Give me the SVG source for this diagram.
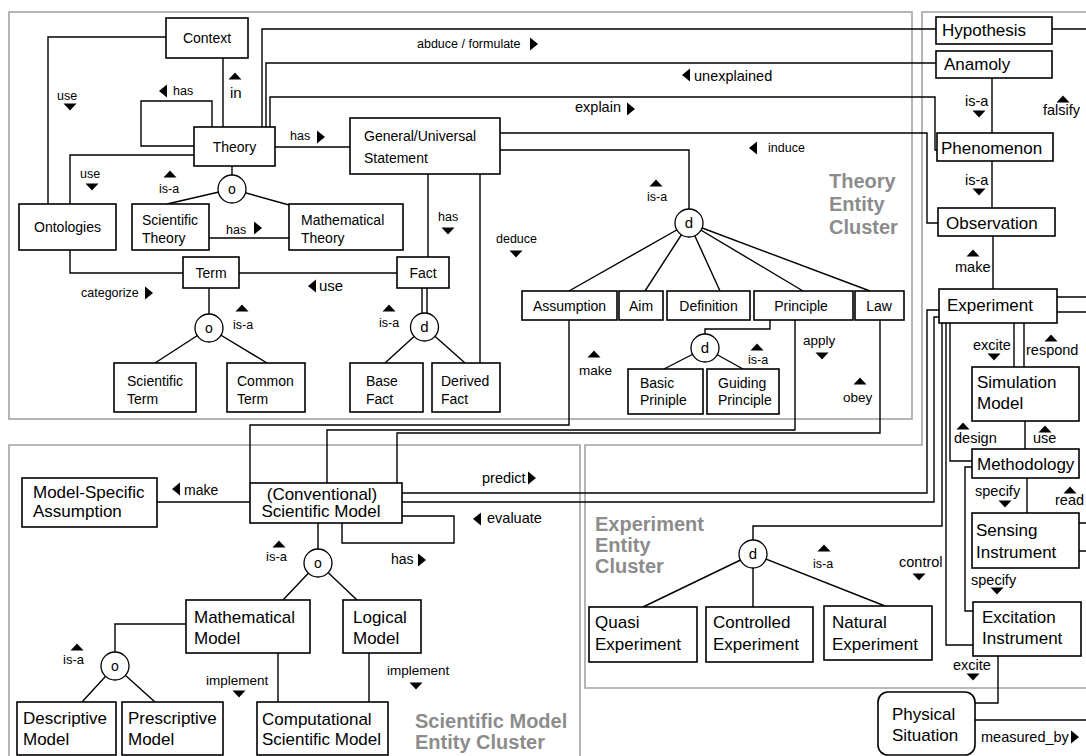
<svg xmlns="http://www.w3.org/2000/svg" width="1086" height="756" viewBox="0 0 1086 756">
<style>
  text{font-family:"Liberation Sans",Arial,sans-serif;fill:#000}
  .box{fill:#fff;stroke:#000;stroke-width:1.6}
  .cir{fill:#fff;stroke:#000;stroke-width:1.3}
  .ln{fill:none;stroke:#000;stroke-width:1.4}
  .cl{fill:none;stroke:#a3a3a3;stroke-width:1.6}
  .t14{font-size:14px}
  .t17{font-size:17px}
  .c{text-anchor:middle}
  .lb{font-size:12.5px}
  .lm{font-size:14.5px}
  .ct{font-size:20px;font-weight:bold;fill:#8c8c8c}
</style>
<defs>
  <path id="au" d="M-6.5,3.5H6.5L0,-3.5Z"/>
  <path id="ad" d="M-6.5,-3.5H6.5L0,3.5Z"/>
  <path id="ar" d="M-4,-6.5V6.5L4,0Z"/>
  <path id="al" d="M4,-6.5V6.5L-4,0Z"/>
</defs>
<rect width="1086" height="756" fill="#fff"/>

<!-- cluster outlines -->
<g id="clusters">
  <rect class="cl" x="9" y="12" width="903" height="407"/>
  <path class="cl" d="M1090,12H922V445H585V688H1090"/>
  <path class="cl" d="M580,760V445H9V760"/>
  <text class="ct" x="829" y="188">Theory</text>
  <text class="ct" x="829" y="211">Entity</text>
  <text class="ct" x="829" y="234">Cluster</text>
  <text class="ct" x="595" y="531">Experiment</text>
  <text class="ct" x="595" y="552">Entity</text>
  <text class="ct" x="595" y="573">Cluster</text>
  <text class="ct" x="415" y="728">Scientific Model</text>
  <text class="ct" x="415" y="749">Entity Cluster</text>
</g>

<!-- connectors -->
<g id="connectors">
  <path class="ln" d="M223,58V127"/>
  <path class="ln" d="M194,146H141V101H212V127"/>
  <path class="ln" d="M166,37H48V204"/>
  <path class="ln" d="M194,155H70V204"/>
  <path class="ln" d="M232,166V189M232,189L167,204M232,189L289,205"/>
  <path class="ln" d="M209,238H289"/>
  <path class="ln" d="M275,147H350"/>
  <path class="ln" d="M70,250V273H183"/>
  <path class="ln" d="M239,273H397"/>
  <path class="ln" d="M428,174V257"/>
  <path class="ln" d="M480,174V363"/>
  <path class="ln" d="M209,288V328M209,328L155,363M209,328L267,363"/>
  <path class="ln" d="M422,288V315M427,288V315"/>
  <path class="ln" d="M424.5,327L385,363M424.5,327L465,363"/>
  <path class="ln" d="M500,150H689V223"/>
  <path class="ln" d="M689,223L569,291M689,223L645,291M689,223L720,291M689,223L803,291M689,223L870,291"/>
  <path class="ln" d="M770,320V329H705V348M705,348L664,369M705,348L743,369"/>
  <path class="ln" d="M569,320V425H250V483"/>
  <path class="ln" d="M795,320V430H327V483"/>
  <path class="ln" d="M880,320V433H397V483"/>
  <path class="ln" d="M262,127V29H936"/>
  <path class="ln" d="M266,127V63H936"/>
  <path class="ln" d="M270,127V97H935V150H937"/>
  <path class="ln" d="M500,133H927V223H938"/>
  <path class="ln" d="M1052,29H1086"/>
  <path class="ln" d="M992,78V133"/>
  <path class="ln" d="M992,161V208"/>
  <path class="ln" d="M993,236V289"/>
  <path class="ln" d="M1057,297H1086M1057,312H1086"/>
  <path class="ln" d="M1014,323V367"/>
  <path class="ln" d="M1024,323V367"/>
  <path class="ln" d="M1025,421V449"/>
  <path class="ln" d="M950,323V461H972"/>
  <path class="ln" d="M1027,478V513"/>
  <path class="ln" d="M1079,523H1086M1079,551H1086"/>
  <path class="ln" d="M972,467H965V611H973"/>
  <path class="ln" d="M946,323V645H973"/>
  <path class="ln" d="M942,323V526H753V554"/>
  <path class="ln" d="M753,554L643,607M753,554V607M753,554L885,606"/>
  <path class="ln" d="M998,656V703H975"/>
  <path class="ln" d="M975,720H1086"/>
  <path class="ln" d="M250,502H157"/>
  <path class="ln" d="M402,493H927V310H939"/>
  <path class="ln" d="M402,502H934V317H939"/>
  <path class="ln" d="M402,516H454V543H342V523"/>
  <path class="ln" d="M318,523V563M318,563L283,600M318,563L357,600"/>
  <path class="ln" d="M186,624H115V666M115,666L82,702M115,666L155,702"/>
  <path class="ln" d="M278,653V702"/>
  <path class="ln" d="M369,653V702"/>
</g>

<!-- connector labels -->
<g id="labels">
  <text class="lb" x="57" y="100">use</text><use href="#ad" x="70" y="107"/>
  <text class="lb" x="173" y="95">has</text><use href="#al" x="163" y="91"/>
  <text x="230" y="98" font-size="15">in</text><use href="#au" x="235" y="76"/>
  <text class="lb" x="80" y="178">use</text><use href="#ad" x="92" y="187"/>
  <text class="lb" x="159" y="193">is-a</text><use href="#au" x="170" y="174"/>
  <text class="lb" x="226" y="234">has</text><use href="#ar" x="258" y="228"/>
  <text class="lb" x="290" y="140">has</text><use href="#ar" x="321" y="137"/>
  <text class="lb" x="417" y="48">abduce / formulate</text><use href="#ar" x="534" y="44"/>
  <text class="lm" x="694" y="81">unexplained</text><use href="#al" x="686" y="75"/>
  <text class="lm" x="575" y="112">explain</text><use href="#ar" x="631" y="109"/>
  <text class="lb" x="768" y="152">induce</text><use href="#al" x="753" y="148"/>
  <text class="lb" x="438" y="221">has</text><use href="#ad" x="448" y="231"/>
  <text class="lb" x="496" y="243">deduce</text><use href="#ad" x="516" y="254"/>
  <text class="lb" x="647" y="201">is-a</text><use href="#au" x="656" y="183"/>
  <text class="lb" x="81" y="297">categorize</text><use href="#ar" x="149" y="293"/>
  <text x="319" y="291" font-size="15">use</text><use href="#al" x="312" y="286"/>
  <text class="lb" x="233" y="329">is-a</text><use href="#au" x="242" y="308"/>
  <text class="lb" x="379" y="327">is-a</text><use href="#au" x="389" y="308"/>
  <text x="579" y="375" font-size="13.5">make</text><use href="#au" x="594" y="354"/>
  <text x="803" y="345" font-size="13.5">apply</text><use href="#ad" x="822" y="356"/>
  <text x="843" y="402" font-size="13.5">obey</text><use href="#au" x="860" y="381"/>
  <text class="lb" x="748" y="364">is-a</text><use href="#au" x="757" y="347"/>

  <text class="lm" x="965" y="106">is-a</text><use href="#ad" x="979" y="114"/>
  <text class="lm" x="1043" y="115">falsify</text><use href="#au" x="1063" y="99"/>
  <text class="lm" x="965" y="185">is-a</text><use href="#ad" x="979" y="192"/>
  <text class="lm" x="955" y="272">make</text><use href="#au" x="973" y="253"/>
  <text class="lm" x="973" y="350">excite</text><use href="#ad" x="994" y="357"/>
  <text class="lm" x="1026" y="355">respond</text><use href="#au" x="1051" y="338"/>
  <text class="lm" x="954" y="443">design</text><use href="#au" x="963" y="426"/>
  <text class="lm" x="1033" y="443">use</text><use href="#au" x="1045" y="429"/>
  <text class="lm" x="975" y="496">specify</text><use href="#ad" x="1005" y="504"/>
  <text class="lm" x="1055" y="505">read</text><use href="#au" x="1070" y="490"/>
  <text class="lm" x="971" y="585">specify</text><use href="#ad" x="997" y="591"/>
  <text class="lm" x="899" y="567">control</text><use href="#ad" x="919" y="577"/>
  <text class="lb" x="813" y="568">is-a</text><use href="#au" x="824" y="548"/>
  <text class="lm" x="953" y="670">excite</text><use href="#ad" x="973" y="677"/>
  <text class="lm" x="981" y="742">measured_by</text><use href="#ar" x="1075" y="737"/>

  <text x="184" y="495" font-size="14">make</text><use href="#al" x="176" y="489"/>
  <text class="lm" x="482" y="483">predict</text><use href="#ar" x="532" y="478"/>
  <text class="lm" x="487" y="523">evaluate</text><use href="#al" x="477" y="519"/>
  <text x="391" y="564" font-size="14">has</text><use href="#ar" x="422" y="560"/>
  <text x="266" y="561" font-size="13">is-a</text><use href="#au" x="279" y="544"/>
  <text x="206" y="685" font-size="13.5">implement</text><use href="#ad" x="239" y="694"/>
  <text x="387" y="675" font-size="13.5">implement</text><use href="#ad" x="416" y="686"/>
  <text x="63" y="664" font-size="13">is-a</text><use href="#au" x="77" y="647"/>
</g>

<!-- Theory entity cluster -->
<g id="n-context"><rect class="box" x="166" y="18" width="82" height="40"/><text class="t14 c" x="207" y="43">Context</text></g>
<g id="n-theory"><rect class="box" x="194" y="127" width="81" height="39"/><text class="t14 c" x="234.5" y="152">Theory</text></g>
<g id="n-ontologies"><rect class="box" x="19" y="204" width="97" height="46"/><text class="t14 c" x="67.5" y="232">Ontologies</text></g>
<g id="n-scientific-theory"><rect class="box" x="132" y="204" width="77" height="46"/><text class="t14" x="142" y="225">Scientific</text><text class="t14" x="142" y="243">Theory</text></g>
<g id="n-mathematical-theory"><rect class="box" x="289" y="204" width="114" height="46"/><text class="t14" x="301" y="225">Mathematical</text><text class="t14" x="301" y="243">Theory</text></g>
<g id="n-statement"><rect class="box" x="350" y="118" width="150" height="56"/><text class="t14" x="364" y="141">General/Universal</text><text class="t14" x="364" y="163">Statement</text></g>
<g id="n-term"><rect class="box" x="183" y="257" width="56" height="31"/><text class="t14 c" x="211" y="278">Term</text></g>
<g id="n-fact"><rect class="box" x="397" y="257" width="52" height="31"/><text class="t14 c" x="423" y="278">Fact</text></g>
<g id="n-scientific-term"><rect class="box" x="114" y="363" width="82" height="49"/><text class="t14" x="127" y="386">Scientific</text><text class="t14" x="127" y="404">Term</text></g>
<g id="n-common-term"><rect class="box" x="227" y="363" width="78" height="49"/><text class="t14" x="237" y="386">Common</text><text class="t14" x="237" y="404">Term</text></g>
<g id="n-base-fact"><rect class="box" x="350" y="363" width="73" height="49"/><text class="t14" x="366" y="386">Base</text><text class="t14" x="366" y="404">Fact</text></g>
<g id="n-derived-fact"><rect class="box" x="432" y="363" width="68" height="49"/><text class="t14" x="441" y="386">Derived</text><text class="t14" x="441" y="404">Fact</text></g>
<g id="n-assumption"><rect class="box" x="522" y="291" width="95" height="29"/><text class="t14 c" x="569.5" y="311">Assumption</text></g>
<g id="n-aim"><rect class="box" x="619" y="291" width="44" height="29"/><text class="t14 c" x="641" y="311">Aim</text></g>
<g id="n-definition"><rect class="box" x="667" y="291" width="83" height="29"/><text class="t14 c" x="708.5" y="311">Definition</text></g>
<g id="n-principle"><rect class="box" x="754" y="291" width="99" height="29"/><text class="t14 c" x="801" y="311">Principle</text></g>
<g id="n-law"><rect class="box" x="855" y="291" width="49" height="29"/><text class="t14 c" x="879" y="311">Law</text></g>
<g id="n-basic-principle"><rect class="box" x="628" y="369" width="75" height="45"/><text class="t14" x="640" y="388">Basic</text><text class="t14" x="640" y="405">Priniple</text></g>
<g id="n-guiding-principle"><rect class="box" x="707" y="369" width="72" height="45"/><text class="t14" x="718" y="388">Guiding</text><text class="t14" x="718" y="405">Principle</text></g>
<g id="g-theory-isa"><circle class="cir" cx="232" cy="189" r="14"/><text class="t14 c" x="232" y="194">o</text></g>
<g id="g-term-isa"><circle class="cir" cx="209" cy="328" r="14"/><text class="t14 c" x="209" y="333">o</text></g>
<g id="g-fact-isa"><circle class="cir" cx="424.5" cy="327" r="14"/><text class="c" font-size="15" x="424.5" y="332">d</text></g>
<g id="g-statement-isa"><circle class="cir" cx="689" cy="223" r="14"/><text class="c" font-size="15" x="689" y="228">d</text></g>
<g id="g-principle-isa"><circle class="cir" cx="705" cy="348" r="14"/><text class="c" font-size="15" x="705" y="353">d</text></g>

<!-- Experiment entity cluster -->
<g id="n-hypothesis"><rect class="box" x="936" y="17" width="116" height="27"/><text class="t17" x="942" y="36">Hypothesis</text></g>
<g id="n-anamoly"><rect class="box" x="936" y="51" width="116" height="27"/><text class="t17" x="944" y="70">Anamoly</text></g>
<g id="n-phenomenon"><rect class="box" x="937" y="133" width="116" height="28"/><text class="t17" x="941" y="154">Phenomenon</text></g>
<g id="n-observation"><rect class="box" x="938" y="208" width="117" height="28"/><text class="t17" x="946" y="229">Observation</text></g>
<g id="n-experiment"><rect class="box" x="939" y="289" width="118" height="34"/><text class="t17" x="947" y="311">Experiment</text></g>
<g id="n-simulation-model"><rect class="box" x="972" y="367" width="107" height="54"/><text class="t17" x="977" y="388">Simulation</text><text class="t17" x="977" y="409">Model</text></g>
<g id="n-methodology"><rect class="box" x="972" y="449" width="107" height="29"/><text class="t17" x="977" y="470">Methodology</text></g>
<g id="n-sensing-instrument"><rect class="box" x="972" y="513" width="107" height="55"/><text class="t17" x="976" y="536">Sensing</text><text class="t17" x="976" y="558">Instrument</text></g>
<g id="n-excitation-instrument"><rect class="box" x="973" y="602" width="108" height="54"/><text class="t17" x="982" y="623">Excitation</text><text class="t17" x="982" y="644">Instrument</text></g>
<g id="n-physical-situation"><rect class="box" x="878" y="692" width="97" height="63" rx="10"/><text class="t17" x="892" y="720">Physical</text><text class="t17" x="892" y="741">Situation</text></g>
<g id="n-quasi-experiment"><rect class="box" x="589" y="607" width="108" height="55"/><text class="t17" x="595" y="628">Quasi</text><text class="t17" x="595" y="650">Experiment</text></g>
<g id="n-controlled-experiment"><rect class="box" x="706" y="607" width="107" height="55"/><text class="t17" x="713" y="628">Controlled</text><text class="t17" x="713" y="650">Experiment</text></g>
<g id="n-natural-experiment"><rect class="box" x="824" y="606" width="108" height="54"/><text class="t17" x="832" y="628">Natural</text><text class="t17" x="832" y="650">Experiment</text></g>
<g id="g-experiment-isa"><circle class="cir" cx="753" cy="554" r="14"/><text class="c" font-size="15" x="753" y="559">d</text></g>

<!-- Scientific model entity cluster -->
<g id="n-model-specific-assumption"><rect class="box" x="22" y="478" width="135" height="49"/><text class="t17" x="33" y="498">Model-Specific</text><text class="t17" x="33" y="517">Assumption</text></g>
<g id="n-scientific-model"><rect class="box" x="250" y="483" width="152" height="40"/><text class="t17 c" x="322" y="500">(Conventional)</text><text class="t17 c" x="321" y="517">Scientific Model</text></g>
<g id="n-mathematical-model"><rect class="box" x="186" y="600" width="124" height="53"/><text class="t17" x="194" y="623">Mathematical</text><text class="t17" x="194" y="644">Model</text></g>
<g id="n-logical-model"><rect class="box" x="343" y="600" width="78" height="53"/><text class="t17" x="353" y="623">Logical</text><text class="t17" x="353" y="644">Model</text></g>
<g id="n-descriptive-model"><rect class="box" x="17" y="702" width="99" height="53"/><text class="t17" x="23" y="724">Descriptive</text><text class="t17" x="23" y="745">Model</text></g>
<g id="n-prescriptive-model"><rect class="box" x="122" y="702" width="101" height="53"/><text class="t17" x="128" y="724">Prescriptive</text><text class="t17" x="128" y="745">Model</text></g>
<g id="n-computational-model"><rect class="box" x="257" y="702" width="131" height="53"/><text class="t17" x="262" y="725">Computational</text><text class="t17" x="262" y="745">Scientific Model</text></g>
<g id="g-model-isa"><circle class="cir" cx="318" cy="563" r="14"/><text class="t14 c" x="318" y="568">o</text></g>
<g id="g-math-model-isa"><circle class="cir" cx="115" cy="666" r="14"/><text class="t14 c" x="115" y="671">o</text></g>
</svg>
